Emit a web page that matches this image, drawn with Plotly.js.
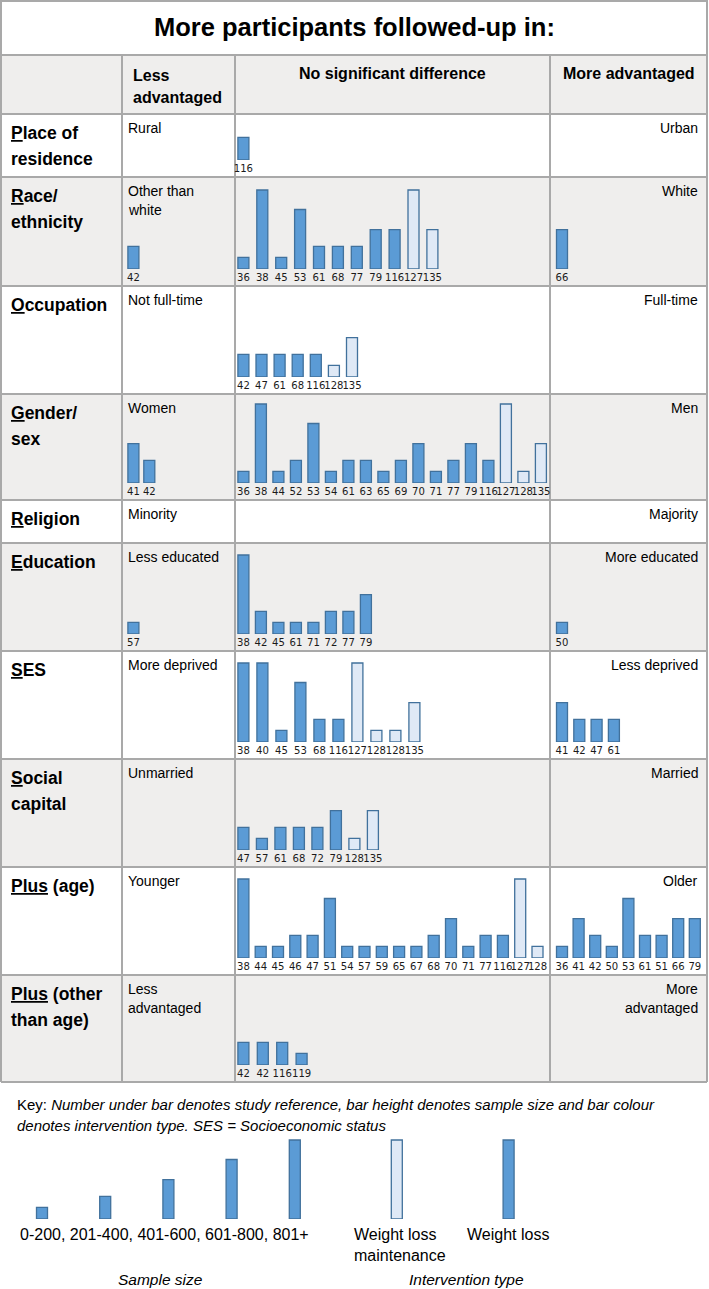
<!DOCTYPE html>
<html><head><meta charset="utf-8">
<script src="https://cdn.plot.ly/plotly-3.0.1.min.js"></script>
<style>html,body{margin:0;padding:0;background:#fff}#chart{width:709px;height:1289px}</style>
</head><body><div id="chart"></div>
<script>
// ================= DATA =================
// size level: 1 = 0-200, 2 = 201-400, 3 = 401-600, 4 = 601-800, 5 = 801+
// type: 'WL' = weight loss, 'WLM' = weight loss maintenance
const titleText = 'More participants followed-up in:';
const columnHeaders = [['Less', 'advantaged'], ['No significant difference'], ['More advantaged']];
const rowLabels = [
  ['<u>P</u>lace of', 'residence'], ['<u>R</u>ace/', 'ethnicity'], ['<u>O</u>ccupation'],
  ['<u>G</u>ender/', 'sex'], ['<u>R</u>eligion'], ['<u>E</u>ducation'], ['<u>S</u>ES'],
  ['<u>S</u>ocial', 'capital'], ['<u>Plus</u> (age)'], ['<u>Plus</u> (other', 'than age)']
];
const lessLabels = [['Rural'], ['Other than', 'white'], ['Not full-time'], ['Women'], ['Minority'],
  ['Less educated'], ['More deprived'], ['Unmarried'], ['Younger'], ['Less', 'advantaged']];
const moreLabels = [['Urban'], ['White'], ['Full-time'], ['Men'], ['Majority'],
  ['More educated'], ['Less deprived'], ['Married'], ['Older'], ['More', 'advantaged']];

const placeNsdRefs = [116];
const placeNsdSize = [2];
const placeNsdType = ['WL'];

const raceLessRefs = [42];
const raceLessSize = [2];
const raceLessType = ['WL'];
const raceNsdRefs = [36, 38, 45, 53, 61, 68, 77, 79, 116, 127, 135];
const raceNsdSize = [1, 5, 1, 4, 2, 2, 2, 3, 3, 5, 3];
const raceNsdType = ['WL', 'WL', 'WL', 'WL', 'WL', 'WL', 'WL', 'WL', 'WL', 'WLM', 'WLM'];
const raceMoreRefs = [66];
const raceMoreSize = [3];
const raceMoreType = ['WL'];

const occNsdRefs = [42, 47, 61, 68, 116, 128, 135];
const occNsdSize = [2, 2, 2, 2, 2, 1, 3];
const occNsdType = ['WL', 'WL', 'WL', 'WL', 'WL', 'WLM', 'WLM'];

const genderLessRefs = [41, 42];
const genderLessSize = [3, 2];
const genderLessType = ['WL', 'WL'];
const genderNsdRefs = [36, 38, 44, 52, 53, 54, 61, 63, 65, 69, 70, 71, 77, 79, 116, 127, 128, 135];
const genderNsdSize = [1, 5, 1, 2, 4, 1, 2, 2, 1, 2, 3, 1, 2, 3, 2, 5, 1, 3];
const genderNsdType = ['WL', 'WL', 'WL', 'WL', 'WL', 'WL', 'WL', 'WL', 'WL', 'WL', 'WL', 'WL', 'WL', 'WL', 'WL', 'WLM', 'WLM', 'WLM'];

const eduLessRefs = [57];
const eduLessSize = [1];
const eduLessType = ['WL'];
const eduNsdRefs = [38, 42, 45, 61, 71, 72, 77, 79];
const eduNsdSize = [5, 2, 1, 1, 1, 2, 2, 3];
const eduNsdType = ['WL', 'WL', 'WL', 'WL', 'WL', 'WL', 'WL', 'WL'];
const eduMoreRefs = [50];
const eduMoreSize = [1];
const eduMoreType = ['WL'];

const sesNsdRefs = [38, 40, 45, 53, 68, 116, 127, 128, 128, 135];
const sesNsdSize = [5, 5, 1, 4, 2, 2, 5, 1, 1, 3];
const sesNsdType = ['WL', 'WL', 'WL', 'WL', 'WL', 'WL', 'WLM', 'WLM', 'WLM', 'WLM'];
const sesMoreRefs = [41, 42, 47, 61];
const sesMoreSize = [3, 2, 2, 2];
const sesMoreType = ['WL', 'WL', 'WL', 'WL'];

const socialNsdRefs = [47, 57, 61, 68, 72, 79, 128, 135];
const socialNsdSize = [2, 1, 2, 2, 2, 3, 1, 3];
const socialNsdType = ['WL', 'WL', 'WL', 'WL', 'WL', 'WL', 'WLM', 'WLM'];

const ageNsdRefs = [38, 44, 45, 46, 47, 51, 54, 57, 59, 65, 67, 68, 70, 71, 77, 116, 127, 128];
const ageNsdSize = [5, 1, 1, 2, 2, 4, 1, 1, 1, 1, 1, 2, 3, 1, 2, 2, 5, 1];
const ageNsdType = ['WL', 'WL', 'WL', 'WL', 'WL', 'WL', 'WL', 'WL', 'WL', 'WL', 'WL', 'WL', 'WL', 'WL', 'WL', 'WL', 'WLM', 'WLM'];
const ageMoreRefs = [36, 41, 42, 50, 53, 61, 51, 66, 79];
const ageMoreSize = [1, 3, 2, 1, 4, 2, 2, 3, 3];
const ageMoreType = ['WL', 'WL', 'WL', 'WL', 'WL', 'WL', 'WL', 'WL', 'WL'];

const otherNsdRefs = [42, 42, 116, 119];
const otherNsdSize = [2, 2, 2, 1];
const otherNsdType = ['WL', 'WL', 'WL', 'WL'];

const sizeLegendLabels = ['0-200', '201-400', '401-600', '601-800', '801+'];
const sizeLegendLevels = [1, 2, 3, 4, 5];
const typeLegendLabels = [['Weight loss', 'maintenance'], ['Weight loss']];
const typeLegendCodes = ['WLM', 'WL'];
const typeLegendLevels = [5, 5];

const keyLine1 = 'Key: <i>Number under bar denotes study reference, bar height denotes sample size and bar colour</i>';
const keyLine2 = '<i>denotes intervention type. SES = Socioeconomic status</i>';

// ================= LAYOUT / STYLE =================
const W = 709, H = 1289;
const X = v => v / W;
const Y = v => 1 - v / H;
const colEdges = [1, 122, 235, 550, 707];
const rowEdges = [55, 114, 177, 286, 394, 500, 543, 651, 759, 867, 975, 1082];
const firstOff = [0, 11.4, 8.4, 12];
const levelPx = [11.7, 22.7, 39.3, 59.5, 79];
const barPx = 11;
const FILL = { WL: '#5b9bd5', WLM: '#dfe9f6' };
const EDGE = '#41719c';
const GRAY = '#efeeed';
const LINE = '#a9a9a9';
const FONT = 'Liberation Sans, Arial, sans-serif';
const NARROW = 'Liberation Sans Narrow, Arial Narrow, DejaVu Sans Condensed, sans-serif';

const cells = [
  { row: 1, col: 2, refs: placeNsdRefs, size: placeNsdSize, type: placeNsdType, step: 18 },
  { row: 2, col: 1, refs: raceLessRefs, size: raceLessSize, type: raceLessType, step: 16 },
  { row: 2, col: 2, refs: raceNsdRefs, size: raceNsdSize, type: raceNsdType, step: 18.9 },
  { row: 2, col: 3, refs: raceMoreRefs, size: raceMoreSize, type: raceMoreType, step: 17 },
  { row: 3, col: 2, refs: occNsdRefs, size: occNsdSize, type: occNsdType, step: 18.1 },
  { row: 4, col: 1, refs: genderLessRefs, size: genderLessSize, type: genderLessType, step: 15.9 },
  { row: 4, col: 2, refs: genderNsdRefs, size: genderNsdSize, type: genderNsdType, step: 17.5 },
  { row: 6, col: 1, refs: eduLessRefs, size: eduLessSize, type: eduLessType, step: 16 },
  { row: 6, col: 2, refs: eduNsdRefs, size: eduNsdSize, type: eduNsdType, step: 17.5 },
  { row: 6, col: 3, refs: eduMoreRefs, size: eduMoreSize, type: eduMoreType, step: 17 },
  { row: 7, col: 2, refs: sesNsdRefs, size: sesNsdSize, type: sesNsdType, step: 19.0 },
  { row: 7, col: 3, refs: sesMoreRefs, size: sesMoreSize, type: sesMoreType, step: 17.3 },
  { row: 8, col: 2, refs: socialNsdRefs, size: socialNsdSize, type: socialNsdType, step: 18.5 },
  { row: 9, col: 2, refs: ageNsdRefs, size: ageNsdSize, type: ageNsdType, step: 17.3 },
  { row: 9, col: 3, refs: ageMoreRefs, size: ageMoreSize, type: ageMoreType, step: 16.6 },
  { row: 10, col: 2, refs: otherNsdRefs, size: otherNsdSize, type: otherNsdType, step: 19.4 }
];

const traces = [];
const layout = {
  width: W, height: H, margin: { l: 0, r: 0, t: 0, b: 0 },
  paper_bgcolor: '#ffffff', plot_bgcolor: 'rgba(0,0,0,0)',
  showlegend: false, hovermode: false, bargap: 0,
  font: { family: FONT, color: '#000' },
  shapes: [], annotations: []
};

let k = 0;
function addBars(xs, ys, types, dom, range, baseline, tickText) {
  k++;
  const xn = k === 1 ? 'xaxis' : 'xaxis' + k;
  const yn = k === 1 ? 'yaxis' : 'yaxis' + k;
  const xr = k === 1 ? 'x' : 'x' + k;
  const yr = k === 1 ? 'y' : 'y' + k;
  traces.push({
    type: 'bar', x: xs, y: ys, xaxis: xr, yaxis: yr,
    width: barPx / range.step,
    marker: { color: types.map(t => FILL[t]), line: { color: EDGE, width: 1.3 } },
    hoverinfo: 'skip'
  });
  layout[xn] = {
    domain: [X(dom[0]), X(dom[1])], range: [range.r0, range.r1], anchor: yr,
    showgrid: false, zeroline: false, showline: false, ticks: '', fixedrange: true,
    tickmode: 'array', tickvals: xs, ticktext: tickText || xs.map(() => ''),
    showticklabels: !!tickText, tickangle: 0, ticklabelstandoff: 0,
    tickfont: { family: NARROW, size: 11.2, color: '#1a1a1a' }
  };
  layout[yn] = {
    domain: [Y(baseline), Y(baseline - 80)], range: [0, 80], anchor: xr,
    visible: false, fixedrange: true
  };
}

cells.forEach(c => {
  const left = colEdges[c.col], right = colEdges[c.col + 1];
  const off = firstOff[c.col];
  const baseline = rowEdges[c.row + 1] - 17;
  const xs = c.refs.map((_, i) => i);
  addBars(xs, c.size.map(l => levelPx[l - 1]), c.type, [left, right],
    { r0: -off / c.step, r1: (right - left - off) / c.step, step: c.step },
    baseline, c.refs.map(String));
});

// legend bars
(function () {
  const step = 63.2, off = 42, left = 0, right = 340, base = 1219;
  const xs = sizeLegendLevels.map((_, i) => i);
  addBars(xs, sizeLegendLevels.map(l => levelPx[l - 1]), sizeLegendLevels.map(() => 'WL'),
    [left, right], { r0: -off / step, r1: (right - left - off) / step, step: step }, base, null);
})();
(function () {
  const step = 111.8, left = 340, right = 600, off = 396.8 - 340, base = 1219;
  const xs = typeLegendCodes.map((_, i) => i);
  addBars(xs, typeLegendLevels.map(l => levelPx[l - 1]), typeLegendCodes,
    [left, right], { r0: -off / step, r1: (right - left - off) / step, step: step }, base, null);
})();

// ---- table shapes ----
const S = layout.shapes;
function rect(x0, y0, x1, y1, fill, lineColor, lw) {
  S.push({ type: 'rect', xref: 'paper', yref: 'paper', layer: 'below',
    x0: X(x0), x1: X(x1), y0: Y(y1), y1: Y(y0),
    fillcolor: fill, line: { color: lineColor || 'rgba(0,0,0,0)', width: lw || 0 } });
}
function line(x0, y0, x1, y1) {
  S.push({ type: 'line', xref: 'paper', yref: 'paper', layer: 'below',
    x0: X(x0), x1: X(x1), y0: Y(y0), y1: Y(y1), line: { color: LINE, width: 2 } });
}
rect(1, 1, 707, 55, '#ffffff', LINE, 2);
for (let r = 0; r < rowEdges.length - 1; r++) {
  rect(1, rowEdges[r], 707, rowEdges[r + 1], r % 2 === 0 ? GRAY : '#ffffff');
}
rowEdges.forEach(y => line(1, y, 707, y));
[1, 122, 235, 550, 707].forEach(x => line(x, rowEdges[0], x, rowEdges[rowEdges.length - 1]));

// ---- text ----
const A = layout.annotations;
function txt(text, x, y, size, opt) {
  opt = opt || {};
  A.push({ xref: 'paper', yref: 'paper', x: X(x), y: Y(y), text: text, showarrow: false,
    xanchor: opt.anchor || 'left', yanchor: 'middle', align: opt.anchor || 'left',
    borderpad: 0, font: { family: opt.family || FONT, size: size, color: '#000' } });
}
txt('<b>' + titleText + '</b>', 354, 27, 25.5, { anchor: 'center' });
txt('<b>' + columnHeaders[0][0] + '</b>', 132, 75, 16);
txt('<b>' + columnHeaders[0][1] + '</b>', 132, 97, 16);
txt('<b>' + columnHeaders[1][0] + '</b>', 392.5, 73, 16, { anchor: 'center' });
txt('<b>' + columnHeaders[2][0] + '</b>', 629, 73, 16, { anchor: 'center' });

rowLabels.forEach((lines, i) => {
  const top = rowEdges[i + 1];
  lines.forEach((t, j) => txt('<b>' + t + '</b>', 10, top + 19 + j * 26, 17.5));
  lessLabels[i].forEach((t, j) => txt(t, 127, top + 14 + j * 19, 14));
  moreLabels[i].forEach((t, j) => txt(t, 699, top + 14 + j * 19, 14, { anchor: 'right' }));
});

txt(keyLine1, 16, 1104, 15);
txt(keyLine2, 16, 1125, 15);
txt(sizeLegendLabels.join(', '), 19, 1234, 16);
txt(typeLegendLabels[0][0], 353, 1234, 16);
txt(typeLegendLabels[0][1], 353, 1255, 16);
txt(typeLegendLabels[1][0], 508, 1234, 16, { anchor: 'center' });
txt('<i>Sample size</i>', 160, 1279, 15.5, { anchor: 'center' });
txt('<i>Intervention type</i>', 466, 1279, 15.5, { anchor: 'center' });

Plotly.newPlot('chart', traces, layout, { staticPlot: true, displayModeBar: false });
</script>
</body></html>
